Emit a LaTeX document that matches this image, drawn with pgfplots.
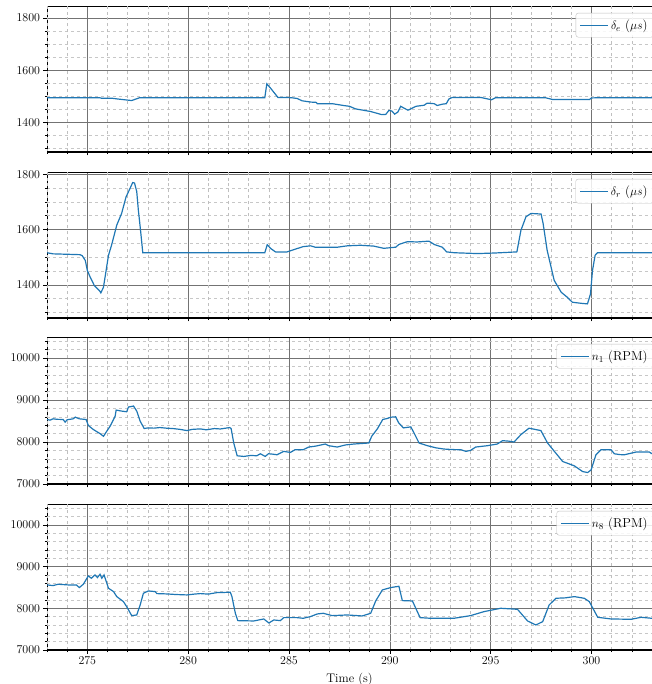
\documentclass[border=0pt]{standalone}
\usepackage{pgfplots}
\pgfplotsset{compat=1.18}
\definecolor{mplblue}{RGB}{31,119,180}
\pgfplotsset{
  panel/.style={
    scale only axis, width=605bp,
    xmin=273, xmax=303,
    xtick={275,280,285,290,295,300},
    extra x ticks={273,274,276,277,278,279,281,282,283,284,286,287,288,289,291,292,293,294,296,297,298,299,301,302},
    extra x tick labels={},
    extra x tick style={grid=major, major grid style={draw=black!25, dashed, line width=0.45pt}, major tick length=2bp},
    xmajorgrids=true, ymajorgrids=true, yminorgrids=true,
    major grid style={draw=black!55, line width=0.6pt},
    minor grid style={draw=black!22, dashed, line width=0.4pt},
    tick align=outside, tick pos=left,
    major tick length=3.5bp, minor tick length=2bp,
    tick style={black, line width=0.5pt},
    axis line style={black, line width=0.6pt},
    ticklabel style={font=\fontsize{12.5}{14}\selectfont},
    scaled y ticks=false,
    /pgf/number format/1000 sep={},
    legend style={at={(rel axis cs:1.003,0.953)}, anchor=north east,
      draw=black!25, rounded corners=2.5pt, fill=white, fill opacity=0.85, text opacity=1,
      font=\fontsize{13}{15}\selectfont, inner xsep=4pt, inner ysep=4.5pt},
    legend cell align=left,
    legend image code/.code={\draw[#1] (0bp,0bp) -- (28bp,0bp);},
  },
  dat/.style={mplblue, line width=1.2pt, no markers},
}
\begin{document}
\begin{tikzpicture}
\path[use as bounding box] (0,0) rectangle (652bp,684bp);
% Panel 1
\begin{axis}[panel, at={(47bp,532bp)}, anchor=south west, height=146bp,
  ymin=1287, ymax=1846, ytick={1400,1600,1800}, minor ytick={1300,1350,...,1850}, xticklabels={}]
\addplot[dat] coordinates {(273,1495) (275.6,1495) (275.7,1493) (276.2,1493) (276.5,1490) (277.2,1484) (277.6,1495) (283.8,1495) (283.9,1548) (284.1,1530) (284.45,1496) (285.1,1495) (285.4,1492) (285.65,1483) (286.1,1478) (286.35,1477) (286.4,1472) (287.15,1472) (287.7,1465) (288.0,1462) (288.3,1452) (289.05,1442) (289.6,1430) (289.8,1431) (289.95,1446) (290.1,1444) (290.24,1432) (290.4,1440) (290.54,1462) (290.7,1455) (290.9,1447) (291.3,1462) (291.7,1466) (291.85,1474) (292.2,1472) (292.35,1465) (292.6,1470) (292.8,1472) (292.93,1490) (293.1,1496) (294.5,1496) (295.04,1487) (295.25,1495) (297.7,1495) (298.07,1488) (299.9,1488) (300.0,1494) (300.5,1495) (303,1495)};
\addlegendentry{$\delta_e$ ($\mu s$)}
\draw[black, line width=1.6pt] (rel axis cs:0,0) -- (rel axis cs:1,0);
\end{axis}
% Panel 2
\begin{axis}[panel, at={(47bp,366bp)}, anchor=south west, height=146bp,
  ymin=1280, ymax=1808, ytick={1400,1600,1800}, minor ytick={1300,1350,...,1800}, xticklabels={}]
\addplot[dat] coordinates {(273,1516) (273.3,1512) (274.64,1509) (274.75,1505) (274.9,1488) (275.0,1452) (275.14,1428) (275.35,1397) (275.6,1379) (275.67,1371) (275.8,1391) (276.05,1507) (276.2,1543) (276.46,1616) (276.7,1658) (276.92,1718) (277.12,1749) (277.25,1770) (277.34,1768) (277.45,1737) (277.53,1670) (277.62,1610) (277.75,1516) (283.8,1516) (283.92,1545) (284.1,1531) (284.33,1519) (284.9,1519) (285.4,1531) (285.7,1538) (286.07,1541) (286.3,1536) (287.4,1536) (287.89,1541) (288.55,1543) (289.2,1540) (289.7,1532) (290.29,1536) (290.45,1546) (290.87,1556) (291.36,1555) (291.94,1558) (292.2,1546) (292.6,1536) (292.82,1519) (293.2,1516) (294.35,1513) (295.2,1515) (296.3,1519) (296.5,1597) (296.75,1646) (297.0,1658) (297.5,1656) (297.6,1622) (297.8,1525) (298.15,1416) (298.5,1373) (298.8,1355) (299.05,1337) (299.5,1333) (299.8,1331) (299.95,1367) (300.05,1452) (300.18,1507) (300.3,1516) (303,1516)};
\addlegendentry{$\delta_r$ ($\mu s$)}
\draw[black, line width=1.6pt] (rel axis cs:0,0) -- (rel axis cs:1,0);
\end{axis}
% Panel 3
\begin{axis}[panel, at={(47bp,200bp)}, anchor=south west, height=147bp,
  ymin=7000, ymax=10500, ytick={7000,8000,9000,10000}, minor ytick={7000,7200,...,10400}, xticklabels={}]
\addplot[dat] coordinates {(273,8536) (273.15,8520) (273.3,8552) (273.5,8540) (273.8,8536) (273.9,8472) (274.0,8530) (274.3,8552) (274.4,8592) (274.6,8552) (274.94,8536) (275.05,8392) (275.3,8296) (275.63,8200) (275.8,8136) (275.93,8232) (276.13,8376) (276.38,8616) (276.43,8760) (276.7,8736) (276.95,8720) (277.04,8832) (277.29,8856) (277.45,8736) (277.62,8496) (277.82,8320) (278.0,8336) (278.3,8330) (278.6,8344) (278.9,8330) (279.25,8320) (279.6,8300) (279.94,8272) (280.2,8300) (280.6,8312) (280.9,8290) (281.3,8320) (281.6,8310) (282.06,8344) (282.13,8320) (282.26,7976) (282.43,7672) (282.76,7656) (283.1,7680) (283.4,7672) (283.58,7720) (283.82,7656) (283.98,7720) (284.2,7710) (284.4,7696) (284.74,7776) (285.07,7752) (285.3,7816) (285.7,7816) (285.98,7880) (286.3,7900) (286.65,7936) (286.8,7952) (286.97,7912) (287.39,7880) (287.8,7930) (288.22,7952) (288.96,7976) (289.1,8136) (289.38,8312) (289.65,8536) (289.87,8560) (290.05,8590) (290.29,8600) (290.44,8456) (290.67,8336) (291.04,8360) (291.2,8216) (291.45,7976) (291.86,7912) (292.3,7860) (292.69,7832) (293.1,7820) (293.52,7816) (293.77,7776) (294.0,7800) (294.26,7880) (294.84,7912) (295.33,7952) (295.59,8032) (295.9,8020) (296.16,8000) (296.5,8176) (296.9,8328) (297.2,8300) (297.49,8272) (297.82,7976) (298.16,7776) (298.57,7536) (299.15,7432) (299.56,7296) (299.81,7272) (299.98,7336) (300.22,7696) (300.47,7816) (300.97,7816) (301.13,7720) (301.4,7700) (301.63,7696) (302.2,7760) (302.87,7760) (303,7720)};
\addlegendentry{$n_1$ (RPM)}
\draw[black, line width=1.6pt] (rel axis cs:0,0) -- (rel axis cs:1,0);
\end{axis}
% Panel 4
\begin{axis}[panel, at={(47bp,34bp)}, anchor=south west, height=146bp,
  ymin=7000, ymax=10500, ytick={7000,8000,9000,10000}, minor ytick={7000,7200,...,10400},
  xlabel={Time (s)}, xlabel style={font=\fontsize{12.5}{14}\selectfont, yshift=4bp}]
\addplot[dat] coordinates {(273,8560) (273.3,8544) (273.55,8576) (274.06,8560) (274.46,8560) (274.6,8496) (274.8,8576) (275.05,8776) (275.2,8720) (275.38,8800) (275.5,8736) (275.63,8816) (275.72,8720) (275.83,8800) (276.05,8480) (276.3,8400) (276.46,8280) (276.79,8160) (276.95,8040) (277.2,7824) (277.45,7840) (277.62,8080) (277.78,8360) (278.03,8416) (278.36,8400) (278.45,8352) (278.95,8344) (279.4,8330) (279.94,8320) (280.3,8340) (280.6,8352) (281.0,8340) (281.43,8376) (282.09,8384) (282.17,8280) (282.34,7880) (282.46,7704) (283.25,7696) (283.75,7744) (284.0,7648) (284.25,7720) (284.57,7704) (284.74,7776) (285.4,7776) (285.7,7760) (286.06,7800) (286.4,7864) (286.7,7880) (287.14,7824) (287.89,7840) (288.63,7816) (289.05,7880) (289.3,8176) (289.63,8440) (290.04,8496) (290.45,8528) (290.62,8184) (291.12,8176) (291.5,7776) (292.03,7760) (293.18,7760) (294.0,7824) (294.67,7920) (295.5,8000) (296.33,7976) (296.83,7696) (297.24,7600) (297.58,7680) (297.9,8080) (298.24,8240) (298.7,8250) (299.15,8280) (299.64,8240) (299.89,8160) (300.31,7784) (300.97,7744) (301.96,7736) (302.46,7784) (303,7760)};
\addlegendentry{$n_8$ (RPM)}
\draw[black, line width=1.6pt] (rel axis cs:0,0) -- (rel axis cs:1,0);
\end{axis}
\end{tikzpicture}
\end{document}
